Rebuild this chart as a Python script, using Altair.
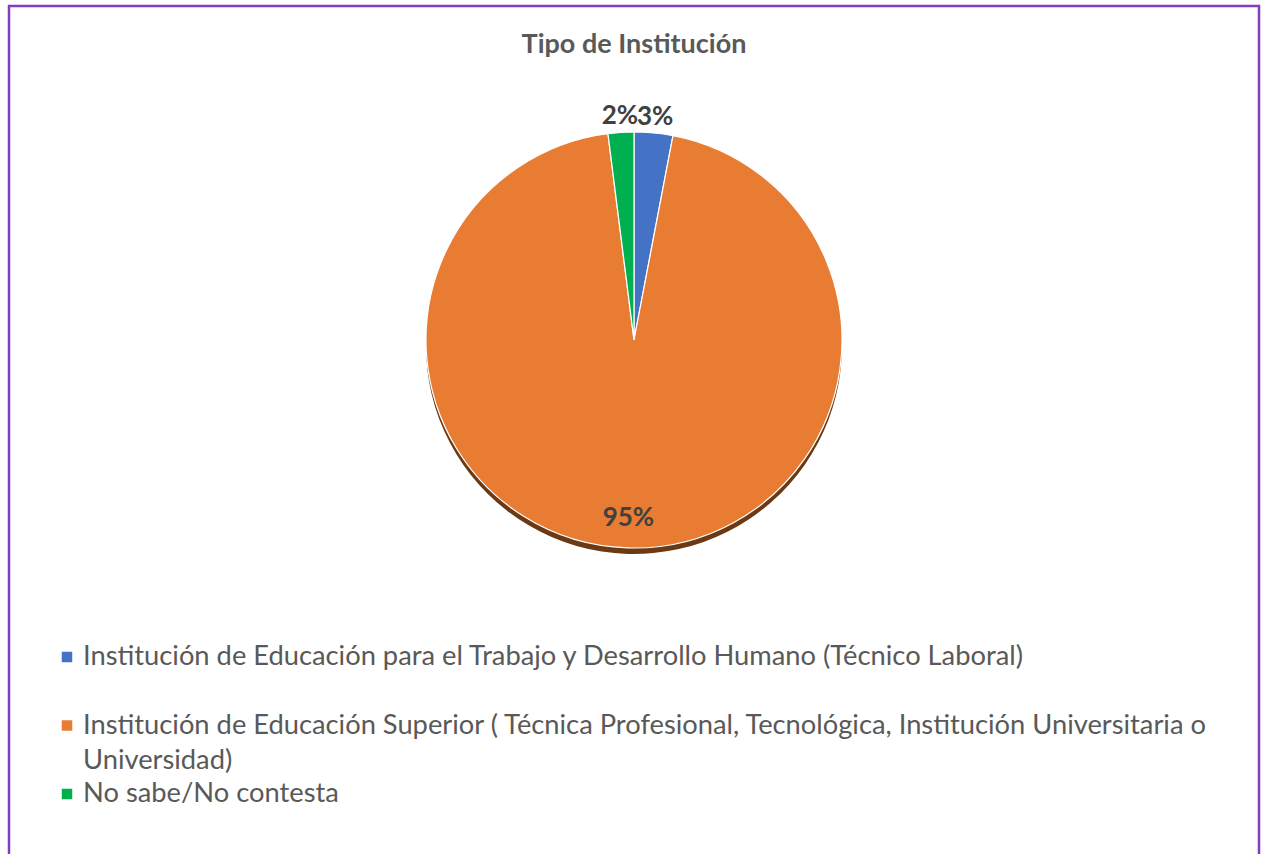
import altair as alt
import pandas as pd
import math

# ---- data ----
categories = [
    "Institución de Educación para el Trabajo y Desarrollo Humano (Técnico Laboral)",
    "Institución de Educación Superior ( Técnica Profesional, Tecnológica, Institución Universitaria o|Universidad)",
    "No sabe/No contesta",
]
percentages = [3, 95, 2]
labels = ["3%", "95%", "2%"]
colors = ["#4472C4", "#E87C33", "#00B050"]
title_text = "Tipo de Institución"

df = pd.DataFrame({
    "cat": categories,
    "pct": percentages,
    "label": labels,
    "idx": list(range(len(categories))),
})

W, H = 1250, 848
CX, CY, R = 625, 334, 208

color_scale = alt.Scale(domain=categories, range=colors)

base = alt.Chart(df)

shadow = base.mark_arc(radius=R, color="#6B3A14").encode(
    theta=alt.Theta("pct:Q", stack=True),
    order=alt.Order("idx:Q"),
    x=alt.value(CX),
    y=alt.value(CY + 6),
)

pie = base.mark_arc(radius=R, stroke="white", strokeWidth=1.2).encode(
    theta=alt.Theta("pct:Q", stack=True),
    order=alt.Order("idx:Q"),
    color=alt.Color("cat:N", scale=color_scale, legend=None),
    x=alt.value(CX),
    y=alt.value(CY),
)

pct_text = base.transform_window(
    cum="sum(pct)", sort=[alt.SortField("idx")]
).transform_joinaggregate(
    total="sum(pct)"
).transform_calculate(
    mid="(datum.cum - datum.pct / 2) / datum.total",
    r="datum.pct > 50 ? 178 : 224",
).mark_text(
    font="Lato", fontSize=26, fontWeight="bold", color="#404040"
).encode(
    theta=alt.Theta("mid:Q", stack=None,
                    scale=alt.Scale(domain=[0, 1], range=[0, 2 * math.pi])),
    radius=alt.Radius("r:Q", scale=None),
    text="label:N",
    x=alt.value(CX),
    y=alt.value(CY),
)

title = alt.Chart(pd.DataFrame({"t": [title_text]})).mark_text(
    font="Lato", fontSize=27, fontWeight="bold", color="#595959"
).encode(
    text="t:N",
    x=alt.value(CX),
    y=alt.value(39),
)

leg_y = alt.Y("cat:N", sort=categories, axis=None,
              scale=alt.Scale(type="point", padding=0, range=[651, 788]))

leg_sq = base.mark_square(size=110, opacity=1).encode(
    y=leg_y,
    x=alt.value(58),
    color=alt.Color("cat:N", scale=color_scale, legend=None),
)

leg_txt = base.mark_text(
    font="Lato", fontSize=27.3, color="#595959", align="left",
    baseline="middle", lineBreak="|", lineHeight=35,
).encode(
    y=leg_y,
    x=alt.value(74),
    text="cat:N",
)

border = alt.Chart(pd.DataFrame({"a": [0]})).mark_rect(
    fill=None, stroke="#7F3FBF", strokeWidth=2.5
).encode(
    x=alt.value(0), x2=alt.value(W), y=alt.value(0), y2=alt.value(H + 40)
)

chart = alt.layer(shadow, pie, pct_text, title, leg_sq, leg_txt, border).resolve_scale(
    theta="independent"
).properties(
    width=W, height=H,
    autosize=alt.AutoSizeParams(type="none"),
    padding={"left": 9, "top": 6, "right": 8, "bottom": 0},
    background="white",
).configure_view(stroke=None)

chart.save("out.html", embed_options={"renderer": "svg", "actions": False})
